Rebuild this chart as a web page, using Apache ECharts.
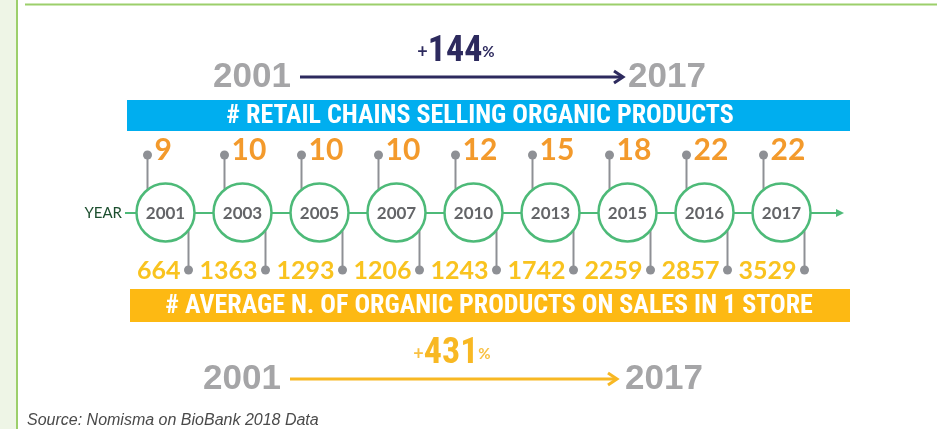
<!DOCTYPE html>
<html>
<head>
<meta charset="utf-8">
<script src="https://cdn.jsdelivr.net/npm/echarts@6/dist/echarts.min.js"></script>
<style>
  html, body { margin: 0; padding: 0; background: #fff; }
  #chart { width: 937px; height: 429px; }
</style>
</head>
<body>
<div id="chart"></div>
<script>
// 数据
var years = ['2001', '2003', '2005', '2007', '2010', '2013', '2015', '2016', '2017'];
var retailChains = [9, 10, 10, 10, 12, 15, 18, 22, 22];
var avgProducts = [664, 1363, 1293, 1206, 1243, 1742, 2259, 2857, 3529];

var firstYear = years[0], lastYear = years[years.length - 1];
var chainsGrowth = Math.round((retailChains[retailChains.length - 1] - retailChains[0]) / retailChains[0] * 100);
var productsGrowth = Math.round((avgProducts[avgProducts.length - 1] - avgProducts[0]) / avgProducts[0] * 100);

var numFont = 'Lato, "DejaVu Sans", sans-serif';
var narrowFont = '"Liberation Sans Narrow", "Roboto Condensed", "Liberation Sans", sans-serif';
var wideFont = '"Liberation Sans", Arial, sans-serif';

var seriesData = years.map(function (y, i) {
  return [i, 0, retailChains[i], avgProducts[i]];
});

function renderItem(params, api) {
  var i = api.value(0);
  var c = api.coord([i, 0]);
  var up = api.coord([i, 1]);
  var low = api.coord([i, -1]);
  var r = 29;
  var ux = c[0] - 18, lx = c[0] + 23;
  var dotColor = '#8e9095';
  return {
    type: 'group',
    children: [
      { type: 'line', shape: { x1: ux, y1: up[1], x2: ux, y2: c[1] - 20 }, style: { stroke: dotColor, lineWidth: 2 } },
      { type: 'line', shape: { x1: lx, y1: c[1] + 15, x2: lx, y2: low[1] }, style: { stroke: dotColor, lineWidth: 2 } },
      { type: 'circle', shape: { cx: c[0], cy: c[1], r: r }, style: { fill: '#fff', stroke: '#4dba78', lineWidth: 2.5 } },
      { type: 'circle', shape: { cx: ux, cy: up[1], r: 4.5 }, style: { fill: dotColor } },
      { type: 'circle', shape: { cx: lx, cy: low[1], r: 4.5 }, style: { fill: dotColor } },
      { type: 'text', x: c[0], y: c[1] + 1, style: { text: years[i], fill: '#646568', font: 'bold 17px ' + numFont, align: 'center', verticalAlign: 'middle' } },
      { type: 'text', x: ux + 7, y: up[1] - 5, style: { text: String(api.value(2)), fill: '#f39a2c', font: 'bold 30px ' + numFont, align: 'left', verticalAlign: 'middle' } },
      { type: 'text', x: lx - 8, y: low[1] + 1, style: { text: String(api.value(3)), fill: '#f9c31f', font: 'bold 25px ' + numFont, align: 'right', verticalAlign: 'middle' } }
    ]
  };
}

var option = {
  animation: false,
  backgroundColor: '#fff',
  grid: { left: 127, width: 693, top: 155, height: 115 },
  xAxis: { type: 'category', data: years, show: false },
  yAxis: { type: 'value', min: -1, max: 1, show: false },
  graphic: [
    // 边框
    { type: 'rect', z: 0, shape: { x: 0, y: 0, width: 17, height: 429 }, style: { fill: '#eef5e6' } },
    { type: 'line', z: 1, shape: { x1: 17, y1: 0, x2: 17, y2: 429 }, style: { stroke: '#9ccf6b', lineWidth: 2 } },
    { type: 'line', z: 1, shape: { x1: 25, y1: 4.5, x2: 937, y2: 4.5 }, style: { stroke: '#9ccf6b', lineWidth: 2 } },
    // 上部箭头
    { type: 'text', x: 213, y: 77, style: { text: firstYear, fill: '#a5a5a7', font: 'bold 35px ' + wideFont, verticalAlign: 'middle' } },
    { type: 'text', x: 628, y: 77, style: { text: lastYear, fill: '#a5a5a7', font: 'bold 35px ' + wideFont, verticalAlign: 'middle' } },
    { type: 'line', shape: { x1: 300, y1: 77, x2: 622, y2: 77 }, style: { stroke: '#2d2a5e', lineWidth: 3 } },
    { type: 'polyline', shape: { points: [[614, 71], [623, 77], [614, 83]] }, style: { stroke: '#2d2a5e', lineWidth: 3, fill: null } },
    { type: 'text', x: 456, y: 52, style: { rich: { p: { fill: '#2d2a5e', font: 'bold 18px ' + numFont }, n: { fill: '#2d2a5e', font: 'bold 36px ' + narrowFont }, s: { fill: '#2d2a5e', font: 'bold 15px ' + numFont } }, text: '{p|+}{n|' + chainsGrowth + '}{s|%}', align: 'center', verticalAlign: 'middle' } },
    // 蓝色横幅
    { type: 'rect', shape: { x: 127, y: 100, width: 723, height: 31 }, style: { fill: '#00aeef' } },
    { type: 'text', x: 480, y: 116, style: { text: '# RETAIL CHAINS SELLING ORGANIC PRODUCTS', fill: '#fff', font: 'bold 26px ' + narrowFont, align: 'center', verticalAlign: 'middle' } },
    // 时间轴
    { type: 'text', x: 122, y: 213, style: { text: 'YEAR', fill: '#1d4f2f', font: '15px ' + numFont, align: 'right', verticalAlign: 'middle' } },
    { type: 'line', z: 0, shape: { x1: 125, y1: 213, x2: 840, y2: 213 }, style: { stroke: '#4dba78', lineWidth: 2 } },
    { type: 'polygon', z: 0, shape: { points: [[836, 209], [844, 213], [836, 217]] }, style: { fill: '#4dba78' } },
    // 黄色横幅
    { type: 'rect', shape: { x: 130, y: 289, width: 720, height: 33 }, style: { fill: '#fdb913' } },
    { type: 'text', x: 489, y: 306, style: { text: '# AVERAGE N. OF ORGANIC PRODUCTS ON SALES IN 1 STORE', fill: '#fff', font: 'bold 26px ' + narrowFont, align: 'center', verticalAlign: 'middle' } },
    // 下部箭头
    { type: 'text', x: 203, y: 379, style: { text: firstYear, fill: '#a5a5a7', font: 'bold 35px ' + wideFont, verticalAlign: 'middle' } },
    { type: 'text', x: 625, y: 379, style: { text: lastYear, fill: '#a5a5a7', font: 'bold 35px ' + wideFont, verticalAlign: 'middle' } },
    { type: 'line', shape: { x1: 290, y1: 379, x2: 616, y2: 379 }, style: { stroke: '#f8b823', lineWidth: 3 } },
    { type: 'polyline', shape: { points: [[608, 373], [617, 379], [608, 385]] }, style: { stroke: '#f8b823', lineWidth: 3, fill: null } },
    { type: 'text', x: 452, y: 354, style: { rich: { p: { fill: '#f9c042', font: 'bold 18px ' + numFont }, n: { fill: '#f8b823', font: 'bold 36px ' + narrowFont }, s: { fill: '#f9c042', font: 'bold 15px ' + numFont } }, text: '{p|+}{n|' + productsGrowth + '}{s|%}', align: 'center', verticalAlign: 'middle' } },
    // 来源
    { type: 'text', x: 27, y: 421, style: { text: 'Source: Nomisma on BioBank 2018 Data', fill: '#4a4a4a', font: 'italic 16px ' + wideFont, verticalAlign: 'middle' } }
  ],
  series: [{
    type: 'custom',
    renderItem: renderItem,
    data: seriesData,
    encode: { x: 0, y: 1 },
    z: 5
  }]
};

var chart = echarts.init(document.getElementById('chart'));
chart.setOption(option);
window.onresize = function () { chart.resize(); };
</script>
</body>
</html>
